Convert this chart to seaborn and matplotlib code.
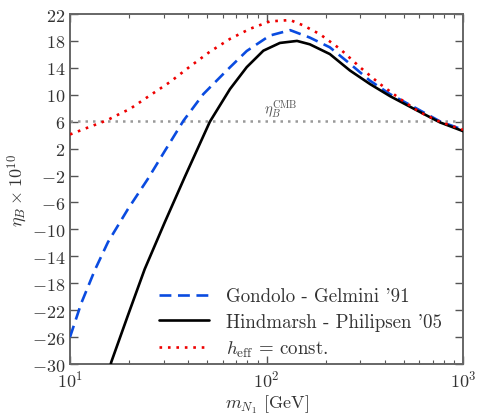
import numpy as np
import pandas as pd
import matplotlib
matplotlib.use("Agg")
import matplotlib.pyplot as plt
import seaborn as sns
from matplotlib.ticker import FixedLocator, LogLocator, NullFormatter

sns.set_theme(style="ticks")
plt.rcParams['font.family'] = ['cmr10', 'DejaVu Serif']
plt.rcParams['mathtext.fontset'] = 'cm'
plt.rcParams['axes.formatter.use_mathtext'] = True
plt.rcParams['axes.unicode_minus'] = True

# ---- data ----
mass_gg = [10, 11.4, 13.4, 15.6, 19.7, 24.9, 30.3, 37.8, 47.7, 62.7, 79.3, 104, 132, 166,
           210, 266, 336, 425, 581, 763, 1000]
eta_gg = [-26.0, -21.0, -16.0, -11.9, -7.0, -2.5, 1.6, 6.15, 10.1, 13.6, 16.5, 18.8, 19.6, 18.5,
          17.05, 14.6, 12.1, 10.1, 7.95, 6.05, 4.8]

mass_hp = [15.5, 16.2, 19.7, 24.0, 30.3, 38.4, 51.5, 65.2, 79.3, 96.4, 117, 143, 166,
           210, 266, 336, 425, 581, 763, 1000]
eta_hp = [-32.5, -29.75, -22.8, -15.9, -9.0, -2.2, 6.0, 10.85, 14.1, 16.55, 17.7, 18.0, 17.5,
          16.05, 13.6, 11.6, 9.8, 7.7, 5.9, 4.6]

mass_c = [10, 12, 15.4, 18, 20.2, 25.5, 32.3, 40.8, 51.5, 65.2, 82.4, 104, 132, 154,
          187, 237, 299, 378, 478, 604, 763, 1000]
eta_c = [4.1, 5.0, 6.2, 7.2, 7.9, 9.9, 11.9, 14.2, 16.4, 18.3, 19.8, 20.9, 21.1, 20.3,
         19.0, 16.8, 14.1, 11.6, 9.4, 7.4, 6.0, 4.8]

eta_cmb = 6.1
labels = ["Gondolo - Gelmini '91", "Hindmarsh - Philipsen '05", r"$h_{\rm eff}$ = const."]
yticks = [-30, -26, -22, -18, -14, -10, -6, -2, 2, 6, 10, 14, 18, 22]

fig = plt.figure(figsize=(4.78, 4.14), dpi=100)
ax = fig.add_axes([70/478, 1-365/414, (463-70)/478, (365-15)/414])

ax.axhline(eta_cmb, color='#999999', ls=(0, (1, 2)), lw=1.8, zorder=1)

sns.lineplot(x=mass_gg, y=eta_gg, ax=ax, color='#0a4be0', lw=1.9, ls=(0, (4.5, 2.5)),
             label=labels[0], zorder=3)
sns.lineplot(x=mass_hp, y=eta_hp, ax=ax, color='black', lw=1.9, ls='-',
             label=labels[1], zorder=3)
sns.lineplot(x=mass_c, y=eta_c, ax=ax, color='#ee0000', lw=1.9, ls=(0, (1, 2.2)),
             label=labels[2], zorder=4)

ax.set_xscale('log')
ax.set_xlim(10, 1000)
ax.set_ylim(-30, 22)
ax.yaxis.set_major_locator(FixedLocator(yticks))
ax.xaxis.set_minor_locator(LogLocator(base=10, subs=np.arange(2, 10)))
ax.xaxis.set_minor_formatter(NullFormatter())

ax.text(97, 6.35, r"$\eta_B^{\rm CMB}$", fontsize=10.5, color='#555555', ha='left', va='bottom')

ax.set_xlabel(r"$m_{N_1}$ [GeV]", fontsize=13, color='#333333', labelpad=2)
ax.set_ylabel(r"$\eta_B \times 10^{10}$", fontsize=13, color='#333333', labelpad=2)

ax.tick_params(which='both', direction='in', top=True, right=True, colors='#555555',
               labelcolor='#333333', labelsize=13)
ax.tick_params(which='major', length=6, width=1.0)
ax.tick_params(which='minor', length=3, width=0.8)
for s in ax.spines.values():
    s.set_color('#666666')
    s.set_linewidth(1.4)

leg = ax.legend(loc='lower right', bbox_to_anchor=(0.966, -0.008), frameon=False,
                fontsize=13.6, handlelength=2.65, handletextpad=0.9, labelspacing=0.42,
                borderaxespad=0.0)
for t in leg.get_texts():
    t.set_color('#333333')

fig.savefig("out.png", dpi=100)
